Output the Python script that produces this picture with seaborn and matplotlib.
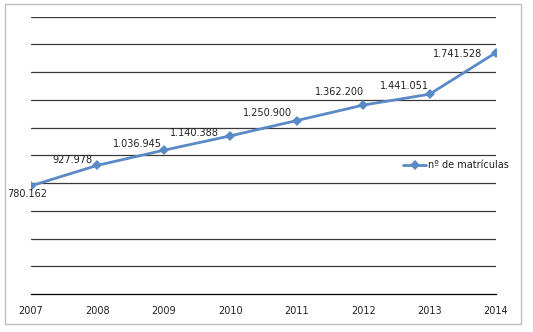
import matplotlib
matplotlib.use("Agg")
import matplotlib.pyplot as plt
import seaborn as sns
import pandas as pd
from matplotlib.patches import Rectangle

years = [2007, 2008, 2009, 2010, 2011, 2012, 2013, 2014]
matriculas = [780162, 927978, 1036945, 1140388, 1250900, 1362200, 1441051, 1741528]
labels = ["780.162", "927.978", "1.036.945", "1.140.388", "1.250.900",
          "1.362.200", "1.441.051", "1.741.528"]
series_name = "nº de matrículas"

df = pd.DataFrame({"ano": years, "valor": matriculas, "serie": series_name})

sns.set_style("white")
plt.rcParams["font.family"] = ["DejaVu Sans"]

fig = plt.figure(figsize=(5.33, 3.32), dpi=100)
ax = fig.add_axes([31/533, 1-294/332, (496-31)/533, (294-16.7)/332])

color = "#5A8AC6"
sns.lineplot(data=df, x="ano", y="valor", hue="serie", palette=[color],
             marker="D", markersize=5, markeredgewidth=0, linewidth=2.0,
             ax=ax, legend=True)

ax.set_xlim(years[0], years[-1])
ax.set_ylim(0, 2000000)
ax.set_yticks(range(200000, 2000001, 200000))
ax.set_yticklabels([])
ax.tick_params(axis="y", length=0)
ax.grid(axis="y", color="#3a3a3a", linewidth=0.9)
ax.grid(axis="x", visible=False)
ax.set_axisbelow(True)
ax.set_xticks(years)
ax.set_xticklabels([str(y) for y in years], fontsize=7, color="#222222")
ax.tick_params(axis="x", direction="out", length=3, width=0.8, color="black", pad=6)
for s in ["top", "right", "left"]:
    ax.spines[s].set_visible(False)
ax.spines["bottom"].set_color("black")
ax.spines["bottom"].set_linewidth(0.9)
ax.set_xlabel("")
ax.set_ylabel("")

# label offsets in pixels (layout)
offsets = [(-3.5, -8), (-25, 5), (-26, 6), (-36, 2.5), (-29.5, 8), (-23.5, 13), (-25, 8), (-38.5, -1)]
for x, v, t, (dx, dy) in zip(years, matriculas, labels, offsets):
    ax.annotate(t, (x, v), xytext=(dx*0.72, dy*0.72), textcoords="offset points",
                ha="center", va="center", fontsize=7, color="#222222")

leg = ax.legend(loc="center left", bbox_to_anchor=(399/533, 1-165/332),
                bbox_transform=fig.transFigure, frameon=False, fontsize=7,
                handlelength=2.4, handletextpad=0.2, borderaxespad=0,
                labelcolor="#222222")

fig.patches.append(Rectangle((5/533, 1-324/332), (521-5)/533, (324-4)/332,
                             transform=fig.transFigure, fill=False,
                             edgecolor="#BFBFBF", linewidth=1))

fig.savefig("out.png", dpi=100)
